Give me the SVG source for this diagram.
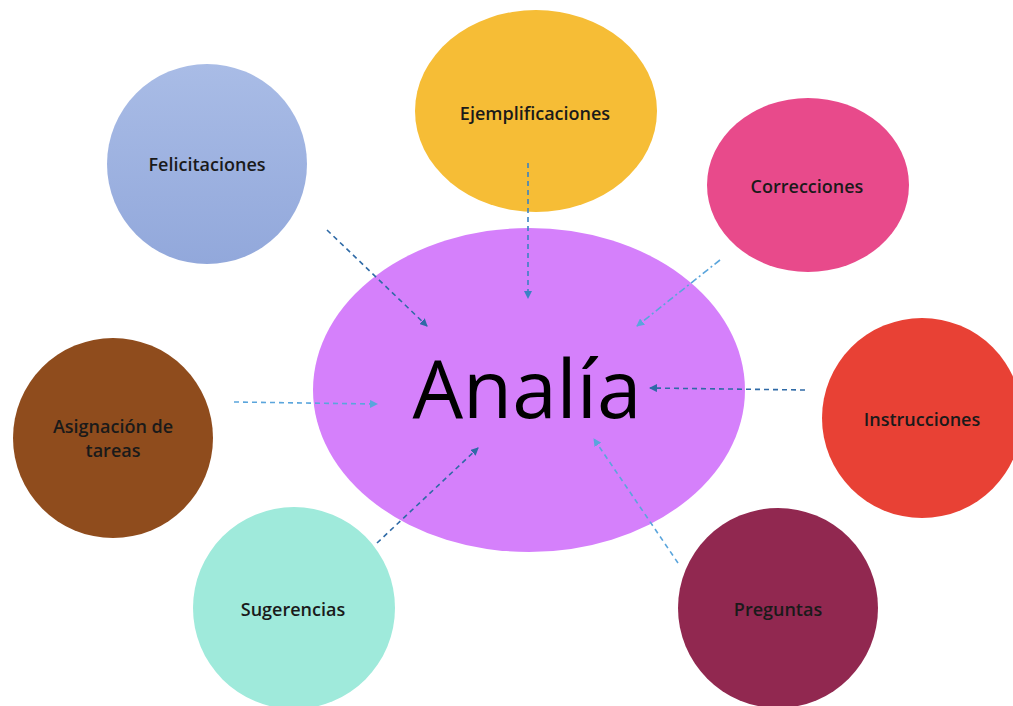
<svg xmlns="http://www.w3.org/2000/svg" width="1013" height="706" viewBox="0 0 1013 706">
<style>
.lbl{font-family:"Open Sans","Liberation Sans",sans-serif;font-weight:600;font-size:18px;fill:#1a1a1a;text-anchor:middle}
.main{font-family:"Open Sans","Liberation Sans",sans-serif;font-size:80px;font-weight:500;fill:#000;text-anchor:middle}
.c{fill:none;stroke-width:1.6;stroke-dasharray:5 4}
.dk{stroke:#2f6aa6}
.md{stroke:#3a82c4}
.lt{stroke:#5aa5dc}
.dd{stroke-dasharray:7 3 2 3}
</style>
<defs>
<linearGradient id="gBlue" x1="0" y1="0" x2="0" y2="1">
<stop offset="0" stop-color="#a9bce6"/>
<stop offset="1" stop-color="#92a8db"/>
</linearGradient>
<marker id="aDk" markerWidth="8" markerHeight="8" refX="7" refY="4" orient="auto" markerUnits="userSpaceOnUse">
<path d="M0,0 L8,4 L0,8 Z" fill="#2f6aa6"/>
</marker>
<marker id="aMd" markerWidth="8" markerHeight="8" refX="7" refY="4" orient="auto" markerUnits="userSpaceOnUse">
<path d="M0,0 L8,4 L0,8 Z" fill="#3a82c4"/>
</marker>
<marker id="aLt" markerWidth="8" markerHeight="8" refX="7" refY="4" orient="auto" markerUnits="userSpaceOnUse">
<path d="M0,0 L8,4 L0,8 Z" fill="#5aa5dc"/>
</marker>
</defs>
<rect width="1013" height="706" fill="#ffffff"/>
<g id="node-analia">
<ellipse cx="529" cy="390" rx="216" ry="162" fill="#d580fb"/>
<text class="main" x="527" y="418">Analía</text>
</g>
<g id="node-felicitaciones">
<circle cx="207" cy="164" r="100" fill="url(#gBlue)"/>
<text class="lbl" x="207" y="171">Felicitaciones</text>
</g>
<g id="node-ejemplificaciones">
<ellipse cx="536" cy="111" rx="121" ry="101" fill="#f6bd36"/>
<text class="lbl" x="535" y="120">Ejemplificaciones</text>
</g>
<g id="node-correcciones">
<ellipse cx="808" cy="185" rx="101" ry="87" fill="#e84a8b"/>
<text class="lbl" x="807" y="193">Correcciones</text>
</g>
<g id="node-instrucciones">
<circle cx="922" cy="418" r="100" fill="#e84135"/>
<text class="lbl" x="922" y="426">Instrucciones</text>
</g>
<g id="node-preguntas">
<circle cx="778" cy="608" r="100" fill="#912850"/>
<text class="lbl" x="778" y="616">Preguntas</text>
</g>
<g id="node-sugerencias">
<circle cx="294" cy="608" r="101" fill="#9feadb"/>
<text class="lbl" x="293" y="616">Sugerencias</text>
</g>
<g id="node-asignacion">
<circle cx="113" cy="438" r="100" fill="#8f4c1d"/>
<text class="lbl" x="113" y="433">Asignación de</text>
<text class="lbl" x="113" y="457">tareas</text>
</g>
<g id="connectors">
<line class="c dk" x1="327" y1="230" x2="427" y2="326" marker-end="url(#aDk)"/>
<line class="c md" x1="528" y1="163" x2="528" y2="298" marker-end="url(#aMd)"/>
<line class="c lt dd" x1="720" y1="260" x2="637" y2="326" marker-end="url(#aLt)"/>
<line class="c dk" x1="805" y1="390" x2="650" y2="388" marker-end="url(#aDk)"/>
<line class="c lt" x1="234" y1="402" x2="377" y2="404" marker-end="url(#aLt)"/>
<line class="c dk" x1="377" y1="543" x2="478" y2="448" marker-end="url(#aDk)"/>
<line class="c lt" x1="678" y1="563" x2="594" y2="439" marker-end="url(#aLt)"/>
</g>
</svg>
